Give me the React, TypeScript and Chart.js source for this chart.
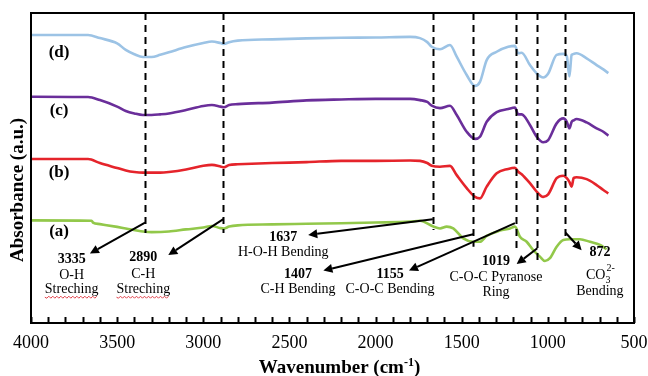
import { useEffect, useRef } from "react";
import { Chart, registerables } from "chart.js";

Chart.register(...registerables);

// Shared wavenumber sampling (cm-1) for curves (b), (c), (d)
const waveNumbers = [4000, 3669, 3600, 3500, 3450, 3400, 3350, 3300, 3250, 3200, 3100, 3000, 2950, 2900, 2880, 2850, 2800, 2600, 2400, 2200, 2000, 1800, 1742, 1700, 1674, 1626, 1568, 1529, 1471, 1423, 1394, 1355, 1297, 1230, 1191, 1172, 1152, 1104, 1065, 1027, 998, 949, 910, 890, 875, 862, 850, 833, 775, 717, 678, 649];

const absorbanceD = [92.9, 92.9, 91.9, 90.2, 88.1, 86.7, 85.8, 85.8, 86.5, 87.3, 89.0, 90.3, 90.8, 90.3, 90.0, 90.6, 91.1, 91.5, 91.8, 92.0, 92.1, 92.3, 91.9, 90.6, 89.1, 88.3, 89.7, 85.9, 80.0, 76.5, 77.8, 84.8, 87.5, 89.1, 89.4, 87.0, 87.2, 83.2, 80.5, 79.2, 80.5, 86.5, 86.8, 86.0, 79.5, 86.5, 86.8, 87.0, 85.4, 83.2, 81.8, 80.6];

const absorbanceC = [73.0, 72.9, 71.9, 69.8, 68.4, 67.6, 67.1, 67.1, 67.3, 67.6, 68.7, 70.0, 70.3, 69.8, 69.6, 70.3, 70.6, 71.1, 71.8, 72.1, 72.3, 72.3, 71.9, 71.3, 70.1, 69.3, 70.1, 67.1, 61.7, 59.4, 60.1, 64.9, 68.0, 69.0, 69.5, 67.3, 67.3, 63.9, 60.1, 58.3, 59.0, 64.4, 66.0, 64.9, 62.8, 64.9, 65.4, 65.8, 64.7, 62.8, 61.7, 60.4];

const absorbanceB = [52.9, 52.9, 51.6, 50.0, 49.2, 48.7, 48.5, 48.5, 48.5, 48.7, 49.5, 50.7, 51.0, 50.5, 50.2, 51.0, 51.2, 51.6, 51.9, 52.3, 52.3, 52.4, 52.3, 51.6, 50.7, 50.4, 50.7, 47.7, 43.5, 40.7, 40.2, 44.0, 48.3, 49.7, 50.1, 48.8, 48.0, 45.1, 42.4, 40.7, 41.5, 46.7, 47.5, 46.7, 45.5, 44.0, 46.8, 47.0, 46.4, 44.5, 42.9, 41.8];

// Curve (a)
const waveNumbersA = [4000, 3648, 3640, 3600, 3500, 3450, 3350, 3300, 3200, 3100, 3000, 2950, 2900, 2880, 2850, 2800, 2600, 2400, 2200, 2000, 1800, 1742, 1665, 1626, 1587, 1549, 1491, 1433, 1394, 1355, 1278, 1220, 1191, 1162, 1123, 1085, 1046, 1017, 988, 949, 910, 872, 814, 756, 697, 659];
const absorbanceA = [33.1, 33.0, 32.4, 31.9, 31.0, 30.5, 29.5, 29.3, 29.5, 30.2, 30.8, 31.3, 30.6, 30.5, 31.1, 31.5, 31.8, 32.0, 32.2, 32.4, 32.7, 33.0, 31.1, 30.5, 31.1, 30.5, 27.3, 26.2, 26.2, 28.1, 29.8, 30.5, 31.1, 27.8, 26.2, 23.5, 21.4, 20.0, 20.9, 24.6, 26.8, 27.0, 27.0, 26.2, 25.2, 23.8];

const seriesNames = ["(a)", "(b)", "(c)", "(d)"];
const seriesColors = ["#92C84A", "#E5242B", "#6A2E9A", "#9CC3E5"];
const seriesLabelWave = 3837;
const seriesLabelAbs = [29.4, 48.4, 68.4, 87.1];

const xMajorTicks = [4000, 3500, 3000, 2500, 2000, 1500, 1000, 500];
const xTitleMain = "Wavenumber (cm";
const xTitleSup = "-1";
const yTitle = "Absorbance (a.u.)";

// Dashed marker lines (wavenumber, lower end in absorbance units)
const markerWavenumbers = [3338, 2886, 1667, 1433, 1187, 1062, 901];
const markerEnds = [29.0, 29.0, 30.0, 24.6, 24.2, 19.4, 27.5];

// Arrows: [wavenumber, absorbance] start -> tip
const arrowFrom = [[3338, 32.4], [2884, 33.5], [1668, 33.5], [1433, 28.6], [1191, 32.2], [1061, 24.1], [897, 29.1]];
const arrowTo = [[3658, 22.4], [3203, 21.9], [2391, 28.4], [2303, 16.9], [1806, 16.9], [1181, 19.0], [804, 23.5]];

// Annotation text: [text, wavenumber, absorbance, style]
const annotationTexts: [string, number, number, string][] = [
  ["3335", 3764, 20.5, "bold"],
  ["O-H", 3764, 15.5, ""],
  ["Streching", 3764, 10.9, "wavy"],
  ["2890", 3348, 21.2, "bold"],
  ["C-H", 3348, 15.8, ""],
  ["Streching", 3348, 10.9, "wavy"],
  ["1637", 2536, 27.6, "bold"],
  ["H-O-H Bending", 2536, 22.7, ""],
  ["1407", 2450, 15.8, "bold"],
  ["C-H Bending", 2450, 10.9, ""],
  ["1155", 1916, 15.8, "bold"],
  ["C-O-C Bending", 1916, 10.9, ""],
  ["1019", 1301, 20.0, "bold"],
  ["C-O-C Pyranose", 1301, 14.7, ""],
  ["Ring", 1301, 9.8, ""],
  ["872", 698, 22.7, "bold"],
  ["CO3", 698, 15.5, "carbonate"],
  ["Bending", 698, 10.1, ""],
];

const SERIF = '"Liberation Serif", "Times New Roman", serif';

const overlayPlugin = {
  id: "overlay",
  afterDatasetsDraw(chart: any) {
    const { ctx, chartArea: a, scales } = chart;
    const x = scales.x;
    const y = scales.y;
    ctx.save();
    ctx.strokeStyle = "#000";
    ctx.fillStyle = "#000";

    // dashed marker lines
    ctx.lineWidth = 2;
    ctx.setLineDash([7, 5]);
    markerWavenumbers.forEach((w, i) => {
      const px = Math.round(x.getPixelForValue(w)) + 0.5;
      ctx.beginPath();
      ctx.moveTo(px, a.top);
      ctx.lineTo(px, y.getPixelForValue(markerEnds[i]));
      ctx.stroke();
    });
    ctx.setLineDash([]);

    // arrows
    arrowFrom.forEach((f, i) => {
      const x0 = x.getPixelForValue(f[0]);
      const y0 = y.getPixelForValue(f[1]);
      const x1 = x.getPixelForValue(arrowTo[i][0]);
      const y1 = y.getPixelForValue(arrowTo[i][1]);
      const ang = Math.atan2(y1 - y0, x1 - x0);
      const len = 9;
      const hw = 4.5;
      const bx = x1 - len * Math.cos(ang);
      const by = y1 - len * Math.sin(ang);
      ctx.lineWidth = 2;
      ctx.beginPath();
      ctx.moveTo(x0, y0);
      ctx.lineTo(bx, by);
      ctx.stroke();
      ctx.beginPath();
      ctx.moveTo(x1, y1);
      ctx.lineTo(bx + hw * Math.sin(ang), by - hw * Math.cos(ang));
      ctx.lineTo(bx - hw * Math.sin(ang), by + hw * Math.cos(ang));
      ctx.closePath();
      ctx.fill();
    });

    // frame
    ctx.lineWidth = 2;
    ctx.strokeRect(a.left, a.top, a.right - a.left, a.bottom - a.top);

    // inward tick marks on x axis (every 100 cm-1)
    ctx.lineWidth = 2;
    for (let w = 500; w <= 4000; w += 100) {
      const px = Math.round(x.getPixelForValue(w)) + 0.5;
      ctx.beginPath();
      ctx.moveTo(px, a.bottom);
      ctx.lineTo(px, a.bottom - 6);
      ctx.stroke();
    }

    // series labels
    ctx.font = `bold 17px ${SERIF}`;
    ctx.textAlign = "center";
    ctx.textBaseline = "middle";
    seriesNames.forEach((n, i) => {
      ctx.fillText(n, x.getPixelForValue(seriesLabelWave), y.getPixelForValue(seriesLabelAbs[i]));
    });

    // annotation texts
    annotationTexts.forEach(([t, w, v, style]) => {
      const px = x.getPixelForValue(w);
      const py = y.getPixelForValue(v);
      if (style === "carbonate") {
        ctx.font = `14px ${SERIF}`;
        const wCO = ctx.measureText("CO").width;
        ctx.font = `10px ${SERIF}`;
        const wSub = ctx.measureText("3").width;
        const wSup = ctx.measureText("2-").width;
        const total = wCO + Math.max(wSub, wSup);
        const sx = px - total / 2;
        ctx.textAlign = "left";
        ctx.font = `14px ${SERIF}`;
        ctx.fillText("CO", sx, py);
        ctx.font = `10px ${SERIF}`;
        ctx.fillText("3", sx + wCO, py + 5);
        ctx.fillText("2-", sx + wCO + 1, py - 7);
        ctx.textAlign = "center";
        return;
      }
      ctx.font = style === "bold" ? `bold 14px ${SERIF}` : `14px ${SERIF}`;
      ctx.textAlign = "center";
      ctx.fillText(t, px, py);
      if (style === "wavy") {
        const tw = ctx.measureText(t).width;
        ctx.strokeStyle = "#E0404A";
        ctx.lineWidth = 1;
        ctx.beginPath();
        const yb = py + 8;
        let up = true;
        for (let xx = px - tw / 2; xx <= px + tw / 2; xx += 2) {
          if (xx === px - tw / 2) ctx.moveTo(xx, yb);
          else ctx.lineTo(xx, up ? yb - 1 : yb + 1);
          up = !up;
        }
        ctx.stroke();
        ctx.strokeStyle = "#000";
      }
    });

    // x axis title with superscript
    ctx.textBaseline = "alphabetic";
    ctx.textAlign = "left";
    ctx.font = `bold 19px ${SERIF}`;
    const wMain = ctx.measureText(xTitleMain).width;
    const wParen = ctx.measureText(")").width;
    ctx.font = `bold 12px ${SERIF}`;
    const wSup = ctx.measureText(xTitleSup).width;
    const totalW = wMain + wSup + wParen;
    const cx = (a.left + a.right) / 2 + 7;
    const sx = cx - totalW / 2;
    const baseY = 373;
    ctx.font = `bold 19px ${SERIF}`;
    ctx.fillText(xTitleMain, sx, baseY);
    ctx.font = `bold 12px ${SERIF}`;
    ctx.fillText(xTitleSup, sx + wMain, baseY - 7);
    ctx.font = `bold 19px ${SERIF}`;
    ctx.fillText(")", sx + wMain + wSup, baseY);

    // y axis title
    ctx.save();
    ctx.translate(23, 190);
    ctx.rotate(-Math.PI / 2);
    ctx.textAlign = "center";
    ctx.textBaseline = "alphabetic";
    ctx.font = `bold 19px ${SERIF}`;
    ctx.fillText(yTitle, 0, 0);
    ctx.restore();

    ctx.restore();
  },
};

export default function App() {
  const ref = useRef<HTMLCanvasElement | null>(null);

  useEffect(() => {
    if (!ref.current) return;
    const mk = (wn: number[], ab: number[]) => wn.map((w, i) => ({ x: w, y: ab[i] }));
    const seriesData = [
      mk(waveNumbersA, absorbanceA),
      mk(waveNumbers, absorbanceB),
      mk(waveNumbers, absorbanceC),
      mk(waveNumbers, absorbanceD),
    ];
    const chart = new Chart(ref.current, {
      type: "line",
      data: {
        datasets: seriesData.map((d, i) => ({
          label: seriesNames[i],
          data: d,
          borderColor: seriesColors[i],
          borderWidth: 2.6,
          pointRadius: 0,
          fill: false,
          cubicInterpolationMode: "monotone" as const,
        })),
      },
      options: {
        responsive: false,
        animation: false,
        layout: { padding: { top: 13, right: 14, left: 0, bottom: 0 } },
        plugins: { legend: { display: false }, tooltip: { enabled: false } },
        scales: {
          x: {
            type: "linear",
            reverse: true,
            min: 500,
            max: 4000,
            grid: { display: false, drawTicks: false },
            border: { display: false },
            afterBuildTicks: (scale: any) => {
              scale.ticks = xMajorTicks.map((v) => ({ value: v }));
            },
            ticks: {
              autoSkip: false,
              maxRotation: 0,
              padding: 9,
              color: "#000",
              font: { family: SERIF, size: 18 },
              callback: (v: any) => String(v),
            },
            title: { display: false },
            afterFit: (scale: any) => {
              scale.height = 53;
              scale.paddingLeft = 0;
              scale.paddingRight = 0;
            },
          },
          y: {
            min: 0,
            max: 100,
            grid: { display: false, drawTicks: false },
            border: { display: false },
            ticks: { display: false },
            title: { display: false },
            afterFit: (scale: any) => {
              scale.width = 31;
            },
          },
        },
      },
      plugins: [overlayPlugin],
    });
    return () => chart.destroy();
  }, []);

  return (
    <div style={{ position: "absolute", left: 0, top: 0, width: 648, height: 376, background: "#fff" }}>
      <canvas ref={ref} width={648} height={376} />
    </div>
  );
}
